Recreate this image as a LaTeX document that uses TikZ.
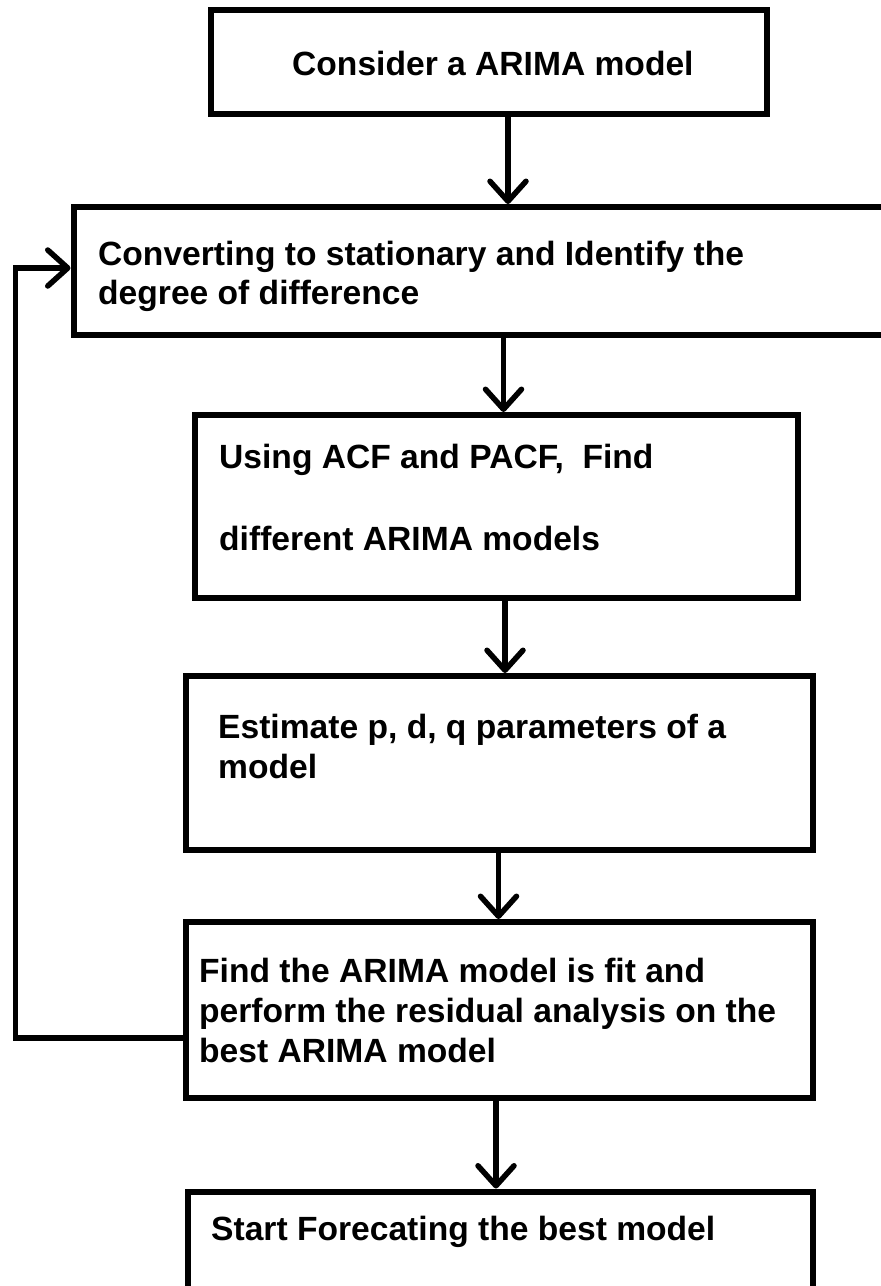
\documentclass[tikz,border=0pt]{standalone}
\usepackage{fontspec}
\setmainfont{Liberation Sans}
\usetikzlibrary{arrows.meta}
\tikzset{
  box/.style={draw=black, line width=6pt, fill=white, inner sep=0pt},
  txt/.style={anchor=base west, inner sep=0pt, font=\fontsize{33.6}{40}\selectfont\bfseries},
  arr/.style={draw=black, line width=5.5pt, -{Straight Barb[length=20pt,width=36pt,round]}},
}
\begin{document}
\begin{tikzpicture}[x=1pt,y=-1pt]
\useasboundingbox (0,0) rectangle (881,1286);
\fill[white] (0,0) rectangle (881,1286);
\clip (0,0) rectangle (881,1286);
% boxes
\node[box, minimum width=556pt, minimum height=103.5pt] (b1) at (489,61.75) {};
\node[box, minimum width=846.5pt, minimum height=128pt] (b2) at (496.75,271) {};
\node[box, minimum width=603pt, minimum height=183pt] (b3) at (496.5,506.5) {};
\node[box, minimum width=627.5pt, minimum height=174pt] (b4) at (499.25,763) {};
\node[box, minimum width=627.5pt, minimum height=176pt] (b5) at (499.25,1010) {};
\node[box, minimum width=625pt, minimum height=138.5pt] (b6) at (500,1260.75) {};
% texts
\node[txt] (t1) at (292,75) {Consider a ARIMA model};
\node[txt] (t2a) at (98,265) {Converting to stationary and Identify the};
\node[txt] (t2b) at (98,304) {degree of difference};
\node[txt] (t3a) at (219,468) {Using ACF and PACF,\ \ Find};
\node[txt] (t3b) at (219,550) {different ARIMA models};
\node[txt] (t4a) at (218,738) {Estimate p, d, q parameters of a};
\node[txt] (t4b) at (218,778) {model};
\node[txt] (t5a) at (199,982) {Find the ARIMA model is fit and};
\node[txt] (t5b) at (199,1022) {perform the residual analysis on the};
\node[txt] (t5c) at (199,1062) {best ARIMA model};
\node[txt] (t6) at (211,1240) {Start Forecating the best model};
% connectors
\draw[arr] (508,0 |- b1.south) -- (508,0 |- b2.north);
\draw[arr] (503.5,0 |- b2.south) -- (503.5,0 |- b3.north);
\draw[arr] (505,0 |- b3.south) -- (505,0 |- b4.north);
\draw[arr] (498.5,0 |- b4.south) -- (498.5,0 |- b5.north);
\draw[arr] (496,0 |- b5.south) -- (496,0 |- b6.north);
\draw[arr, line join=miter] (b5.west |- 0,1038) -- (15.5,1038) -- (15.5,268) -- (b2.west |- 0,268);
\end{tikzpicture}
\end{document}
